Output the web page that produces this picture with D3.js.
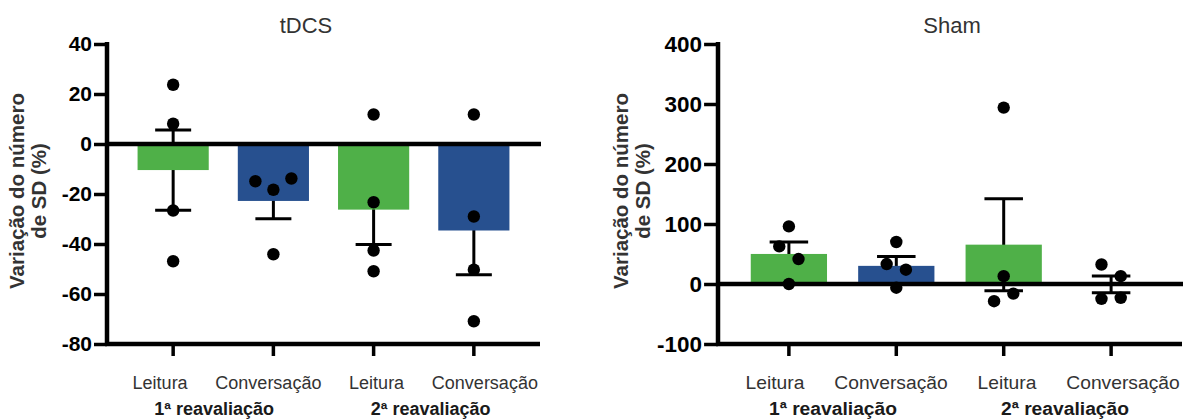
<!DOCTYPE html>
<html>
<head>
<meta charset="utf-8">
<script src="https://cdn.jsdelivr.net/npm/d3@7"></script>
<style>
  body { margin: 0; background: #fff; }
  svg { display: block; }
  text { font-family: "Liberation Sans", Arial, Helvetica, sans-serif; }
</style>
</head>
<body>
<svg id="chart" width="1190" height="419"></svg>
<script>
// Categories along the x axis and the session each pair belongs to
const categories = ["Leitura", "Conversação", "Leitura", "Conversação"];
const sessions = ["1ª reavaliação", "2ª reavaliação"];
const sessionOf = [0, 0, 1, 1];

// Individual changes (%) per category, in recording order
const tdcsValues = [
  [23.7, 8.1, -26.6, -46.9],
  [-14.9, -18.3, -13.8, -44.1],
  [11.8, -23.3, -42.6, -50.9],
  [11.8, -29.0, -50.3, -70.9]
];
const shamValues = [
  [96, 62.7, 41.6, 0],
  [70, 33.3, 23.8, -6.2],
  [294, 13, -28.7, -16],
  [32.5, 13, -24.7, -23]
];

// Y axis ticks for each panel
const tdcsTicks = [40, 20, 0, -20, -40, -60, -80];
const shamTicks = [400, 300, 200, 100, 0, -100];

const yTitleLines = ["Variação do número", "de SD (%)"];
const barColors = ["#4fb048", "#27508f", "#4fb048", "#27508f"];

const svg = d3.select("#chart");

const panels = [
  { title: "tDCS", values: tdcsValues, ticks: tdcsTicks, x0: 107, x1: 540, k: 1.0,
    titleX: 306, yTitleX: [24, 45.5] },
  { title: "Sham", values: shamValues, ticks: shamTicks, x0: 718, x1: 1182, k: 1.07,
    titleX: 952, yTitleX: [628, 650] }
];

panels.forEach(p => drawPanel(p));

function drawPanel(p) {
  const k = p.k;
  const g = svg.append("g");
  const yMin = d3.min(p.ticks), yMax = d3.max(p.ticks);
  const yBottom = 344, yTop = 44;

  const y = d3.scaleLinear().domain([yMin, yMax]).range([yBottom, yTop]);
  const x = d3.scalePoint().domain(d3.range(categories.length))
    .range([p.x0, p.x1]).padding(0.66);
  const step = x.step();
  const barW = step * 0.71;

  // category labels sit on a slightly wider spread than the ticks
  const cx = (x(0) + x(categories.length - 1)) / 2;
  const half = (x(categories.length - 1) - x(0)) / 2 * 1.08;
  const xl = d3.scalePoint().domain(d3.range(categories.length))
    .range([cx - half - 1, cx + half - 1]);

  const stats = p.values.map(v => ({
    mean: d3.mean(v),
    sem: d3.deviation(v) / Math.sqrt(v.length)
  }));

  // error bars (mean ± SEM), behind the bars
  const capW = 36 * k;
  const eb = g.append("g").attr("stroke", "#000").attr("stroke-width", 3);
  stats.forEach((s, i) => {
    const hi = y(s.mean + s.sem), lo = y(s.mean - s.sem);
    eb.append("line").attr("x1", x(i)).attr("x2", x(i)).attr("y1", hi).attr("y2", lo);
    eb.append("line").attr("x1", x(i) - capW / 2).attr("x2", x(i) + capW / 2).attr("y1", hi).attr("y2", hi);
    eb.append("line").attr("x1", x(i) - capW / 2).attr("x2", x(i) + capW / 2).attr("y1", lo).attr("y2", lo);
  });

  // bars
  g.append("g").selectAll("rect").data(stats).join("rect")
    .attr("x", (d, i) => x(i) - barW / 2)
    .attr("width", barW)
    .attr("y", d => y(Math.max(0, d.mean)))
    .attr("height", d => Math.abs(y(d.mean) - y(0)))
    .attr("fill", (d, i) => barColors[i]);

  // zero line
  g.append("line").attr("x1", p.x0).attr("x2", p.x1 + 1)
    .attr("y1", y(0)).attr("y2", y(0))
    .attr("stroke", "#000").attr("stroke-width", 4.5);

  // y axis
  const yAxis = d3.axisLeft(y).tickValues(p.ticks).tickSize(13 * k).tickPadding(2 * k)
    .tickFormat(d => String(d));
  const ya = g.append("g").attr("transform", `translate(${p.x0},0)`).call(yAxis);
  ya.select(".domain").remove();
  ya.selectAll(".tick line").attr("stroke", "#000").attr("stroke-width", 3.5);
  ya.selectAll(".tick text")
    .attr("fill", "#000")
    .style("font-size", (21 * k) + "px")
    .style("font-weight", "bold");
  g.append("line").attr("x1", p.x0).attr("x2", p.x0)
    .attr("y1", yTop - 2).attr("y2", yBottom + 2)
    .attr("stroke", "#000").attr("stroke-width", 4.5);

  // x axis
  g.append("line").attr("x1", p.x0 - 2).attr("x2", p.x1)
    .attr("y1", yBottom).attr("y2", yBottom)
    .attr("stroke", "#000").attr("stroke-width", 4.5);
  g.append("g").selectAll("line").data(categories).join("line")
    .attr("x1", (d, i) => x(i)).attr("x2", (d, i) => x(i))
    .attr("y1", yBottom).attr("y2", yBottom + 12)
    .attr("stroke", "#000").attr("stroke-width", 3.5);

  // individual points: values closer than one dot height share a row
  const dotR = 6.2;
  const spread = 18 * k;
  p.values.forEach((vals, i) => {
    const order = vals.map((v, j) => j).sort((a, b) => vals[b] - vals[a]);
    const rows = [];
    order.forEach(j => {
      const last = rows[rows.length - 1];
      if (last && Math.abs(y(vals[last[0]]) - y(vals[j])) < 13) last.push(j);
      else rows.push([j]);
    });
    const pts = [];
    rows.forEach(r => {
      r.sort((a, b) => a - b);
      r.forEach((j, m) => pts.push({ v: vals[j], dx: (m - (r.length - 1) / 2) * spread }));
    });
    g.append("g").selectAll("circle").data(pts).join("circle")
      .attr("cx", d => x(i) + d.dx)
      .attr("cy", d => y(d.v))
      .attr("r", dotR)
      .attr("fill", "#000");
  });

  // category labels
  g.append("g").selectAll("text").data(categories).join("text")
    .attr("x", (d, i) => xl(i))
    .attr("y", 389)
    .attr("text-anchor", "middle")
    .attr("fill", "#333")
    .style("font-size", (18 * k) + "px")
    .text(d => d);

  // session labels, centred under their two categories
  g.append("g").selectAll("text").data(sessions).join("text")
    .attr("x", (d, s) => d3.mean(categories.map((c, i) => i).filter(i => sessionOf[i] === s), i => xl(i)))
    .attr("y", 415)
    .attr("text-anchor", "middle")
    .attr("fill", "#1a1a1a")
    .style("font-size", (18 * k) + "px")
    .style("font-weight", "bold")
    .text(d => d);

  // panel title
  g.append("text").attr("x", p.titleX).attr("y", 33)
    .attr("text-anchor", "middle").attr("fill", "#333")
    .style("font-size", "22px")
    .text(p.title);

  // y axis title
  yTitleLines.forEach((t, li) => {
    g.append("text")
      .attr("transform", `translate(${p.yTitleX[li]},191) rotate(-90)`)
      .attr("text-anchor", "middle")
      .attr("fill", "#333")
      .style("font-size", "20.5px")
      .style("font-weight", "bold")
      .text(t);
  });
}
</script>
</body>
</html>
